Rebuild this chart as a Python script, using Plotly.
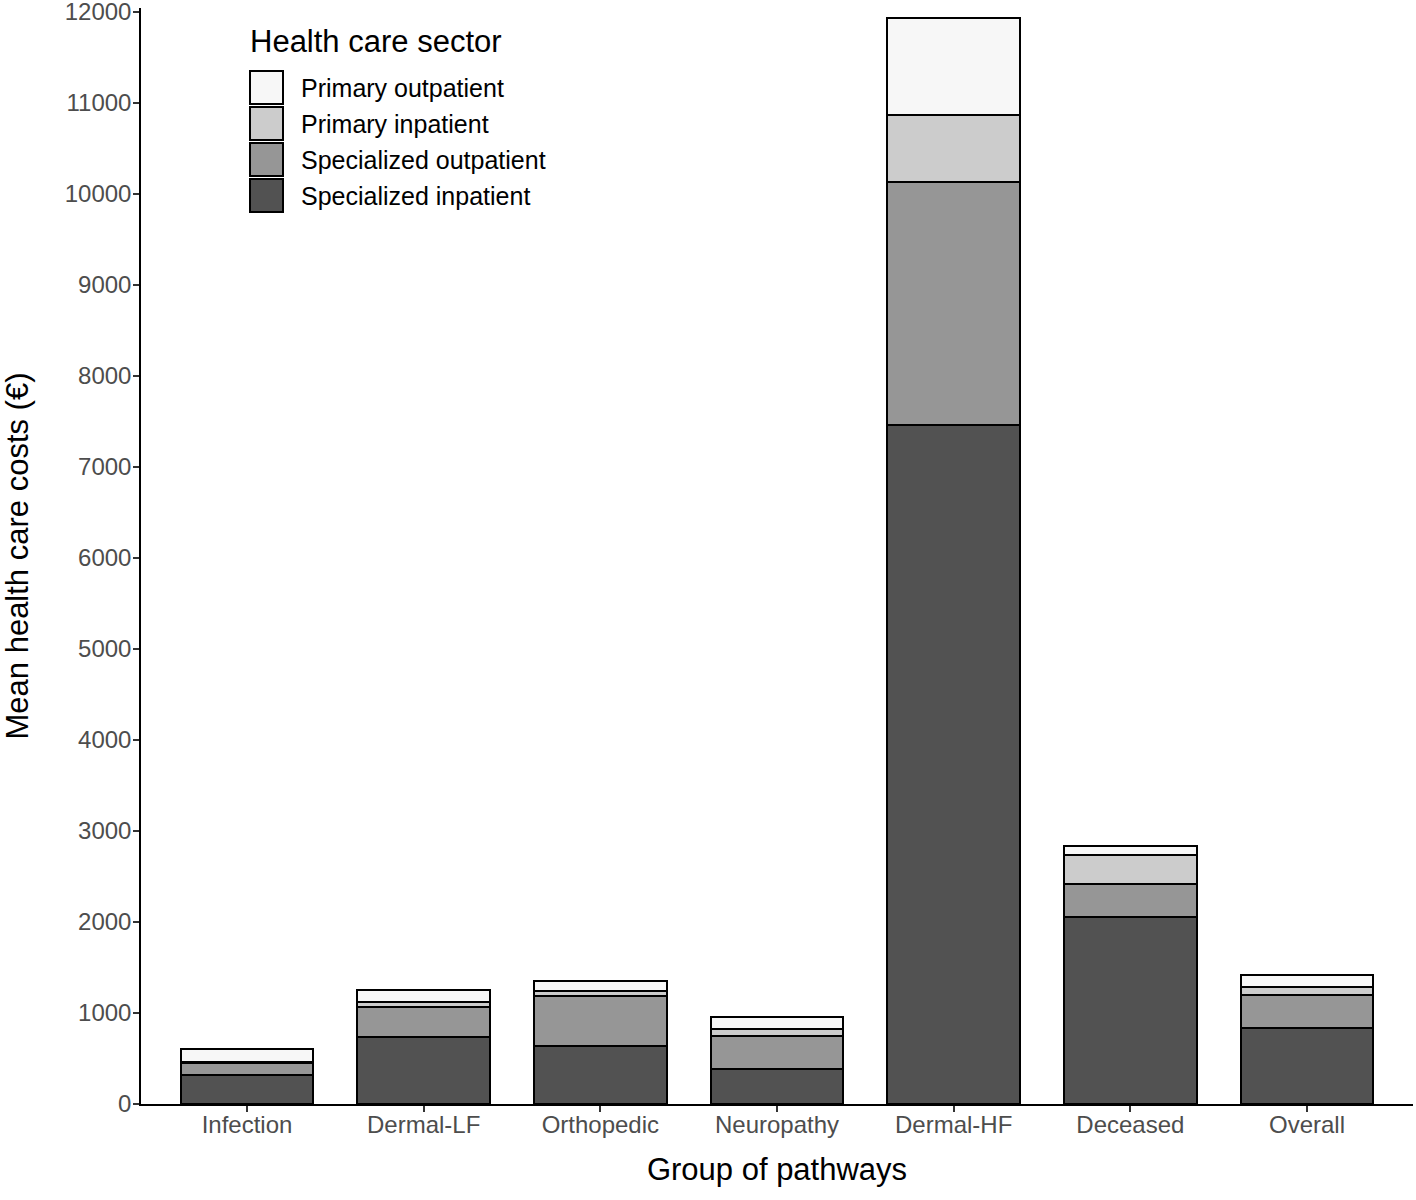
import plotly.graph_objects as go

categories = ["Infection", "Dermal-LF", "Orthopedic", "Neuropathy", "Dermal-HF", "Deceased", "Overall"]
specialized_inpatient = [320, 740, 640, 390, 7460, 2060, 835]
specialized_outpatient = [130, 330, 550, 355, 2670, 360, 360]
primary_inpatient = [15, 50, 50, 80, 740, 320, 90]
primary_outpatient = [140, 135, 110, 135, 1060, 100, 135]
y_ticks = list(range(0, 12001, 1000))
y_tick_labels = [str(v) for v in y_ticks]

series = [
    ("Specialized inpatient", specialized_inpatient, "#525252"),
    ("Specialized outpatient", specialized_outpatient, "#969696"),
    ("Primary inpatient", primary_inpatient, "#cccccc"),
    ("Primary outpatient", primary_outpatient, "#f7f7f7"),
]

W, H = 1416, 1200
ML, MR, MT, MB = 141, 3, 8, 96
PW, PH = W - ML - MR, H - MT - MB


def px_x(px):
    return (px - ML) / PW


def px_y(py):
    return (H - MB - py) / PH


fig = go.Figure()
for name, vals, color in series:
    fig.add_trace(go.Bar(
        x=categories, y=vals, name=name,
        marker=dict(color=color, line=dict(color="black", width=2)),
        width=0.75, showlegend=False,
    ))

font_family = "Liberation Sans, Arial, sans-serif"

# custom legend (large keys like the reference)
legend_items = list(reversed(series))
shapes = []
annotations = [dict(
    text="Health care sector", xref="paper", yref="paper",
    x=px_x(248), y=px_y(41), xanchor="left", yanchor="middle",
    showarrow=False, font=dict(size=31, color="black", family=font_family),
)]
for i, (name, vals, color) in enumerate(legend_items):
    top = 71 + i * 36
    shapes.append(dict(
        type="rect", xref="paper", yref="paper",
        x0=px_x(250), x1=px_x(283), y0=px_y(top + 33), y1=px_y(top),
        fillcolor=color, line=dict(color="black", width=2),
    ))
    annotations.append(dict(
        text=name, xref="paper", yref="paper",
        x=px_x(299), y=px_y(top + 17), xanchor="left", yanchor="middle",
        showarrow=False, font=dict(size=25, color="black", family=font_family),
    ))

fig.update_layout(
    width=W, height=H,
    barmode="stack",
    plot_bgcolor="white", paper_bgcolor="white",
    margin=dict(l=ML, r=MR, t=MT, b=MB),
    font=dict(family=font_family, color="black"),
    showlegend=False,
    shapes=shapes,
    annotations=annotations,
    xaxis=dict(
        range=[-0.6, 6.6],
        automargin=False,
        showline=True, linecolor="black", linewidth=1.5,
        ticks="outside", ticklen=6, tickcolor="#333333", tickwidth=1.5,
        tickfont=dict(size=24, color="#4d4d4d"),
        ticklabelstandoff=-8,
        title=dict(text="Group of pathways", font=dict(size=31, color="black"), standoff=22),
        showgrid=False, zeroline=False,
    ),
    yaxis=dict(
        range=[0, 12045],
        automargin=False,
        tickvals=y_ticks, ticktext=y_tick_labels,
        showline=True, linecolor="black", linewidth=1.5,
        ticks="outside", ticklen=6, tickcolor="#333333", tickwidth=1.5,
        tickfont=dict(size=24, color="#4d4d4d"),
        ticklabelstandoff=-3,
        ticklabeloverflow="allow",
        title=dict(text="Mean health care costs (€)", font=dict(size=31, color="black"), standoff=28),
        showgrid=False, zeroline=False,
    ),
)

fig.write_html("out.html", config={"displayModeBar": False},
               post_script="document.body.style.margin='0';")
